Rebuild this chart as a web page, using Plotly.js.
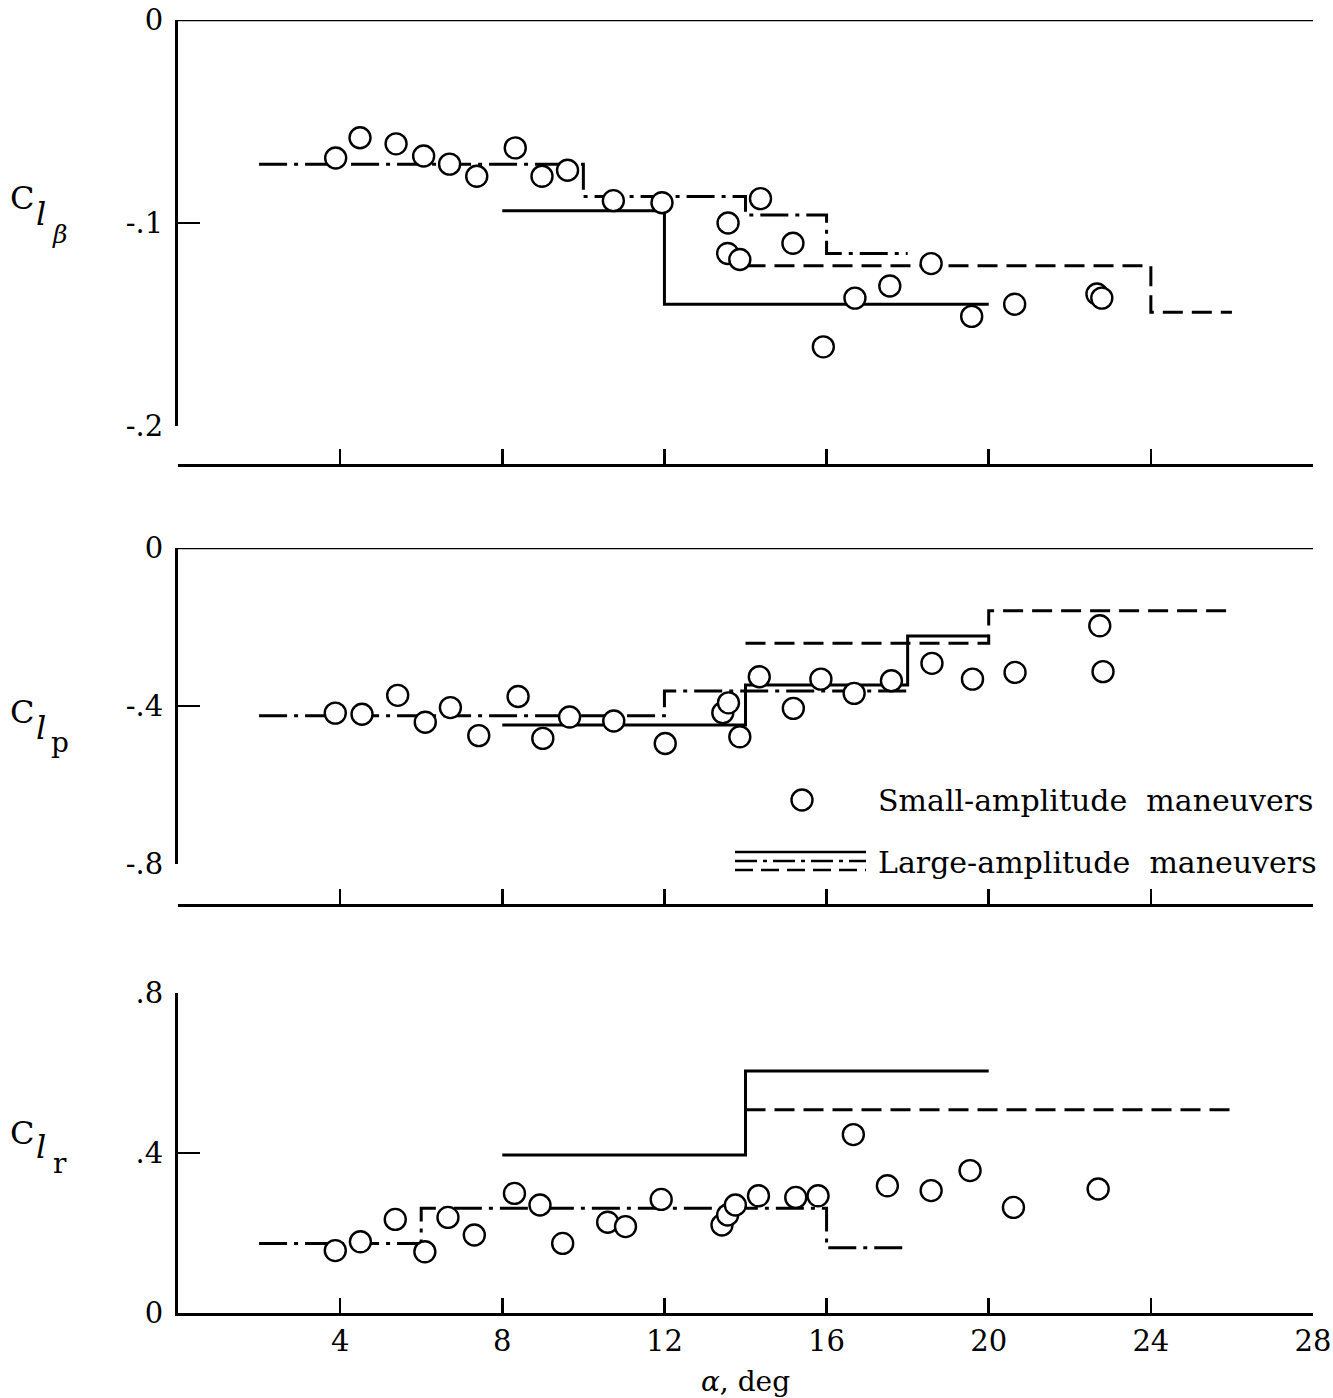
<!DOCTYPE html>
<html><head><meta charset="utf-8">
<script src="https://cdn.plot.ly/plotly-3.0.1.min.js"></script>
<style>html,body{margin:0;padding:0;background:#fff}</style>
</head><body><div id="chart" style="width:1333px;height:1398px"></div>
<script>
// ---------- data ----------
const alphaTicks = [4, 8, 12, 16, 20, 24, 28];
const alphaTickText = ['4', '8', '12', '16', '20', '24', '28'];

// C_l_beta panel
const betaSmallX = [3.89, 4.49, 5.38, 6.06, 6.70, 7.37, 8.32, 8.98, 9.61, 10.74, 11.94, 13.57, 14.37, 13.56, 13.86, 15.17, 15.92, 16.70, 17.56, 18.58, 19.58, 20.64, 22.67, 22.79];
const betaSmallY = [-0.068, -0.058, -0.061, -0.067, -0.071, -0.077, -0.063, -0.077, -0.074, -0.089, -0.090, -0.100, -0.088, -0.115, -0.118, -0.110, -0.161, -0.137, -0.131, -0.120, -0.146, -0.140, -0.135, -0.137];
const betaDashDotX = [2, 10, 14, 16, 18];
const betaDashDotY = [-0.071, -0.087, -0.096, -0.115, -0.115];
const betaSolidX = [8, 12, 20];
const betaSolidY = [-0.094, -0.140, -0.140];
const betaDashX = [14, 24, 26];
const betaDashY = [-0.121, -0.144, -0.144];
const betaTickVals = [0, -0.1, -0.2];
const betaTickText = ['0', '-.1', '-.2'];

// C_l_p panel
const pSmallX = [3.88, 4.54, 5.42, 6.10, 6.72, 7.42, 8.39, 9.00, 9.66, 10.75, 12.02, 13.44, 13.58, 13.86, 14.34, 15.18, 15.86, 16.68, 17.60, 18.60, 19.60, 20.65, 22.74, 22.82];
const pSmallY = [-0.418, -0.421, -0.373, -0.441, -0.404, -0.475, -0.376, -0.482, -0.428, -0.438, -0.495, -0.417, -0.392, -0.478, -0.326, -0.406, -0.332, -0.368, -0.336, -0.292, -0.332, -0.315, -0.197, -0.313];
const pDashDotX = [2, 12, 18];
const pDashDotY = [-0.425, -0.362, -0.362];
const pSolidX = [8, 14, 18, 20];
const pSolidY = [-0.448, -0.347, -0.223, -0.223];
const pDashX = [14, 20, 26];
const pDashY = [-0.241, -0.159, -0.159];
const pTickVals = [0, -0.4, -0.8];
const pTickText = ['0', '-.4', '-.8'];

// C_l_r panel
const rSmallX = [3.88, 4.50, 5.36, 6.09, 6.66, 7.31, 8.30, 8.93, 9.49, 10.60, 11.04, 11.92, 13.42, 13.56, 13.75, 14.32, 15.24, 15.79, 16.66, 17.50, 18.58, 19.54, 20.61, 22.70];
const rSmallY = [0.156, 0.178, 0.234, 0.153, 0.239, 0.195, 0.299, 0.270, 0.174, 0.227, 0.216, 0.284, 0.220, 0.245, 0.270, 0.293, 0.289, 0.293, 0.446, 0.318, 0.306, 0.356, 0.264, 0.310];
const rDashDotX = [2, 6, 16, 18];
const rDashDotY = [0.174, 0.262, 0.163, 0.163];
const rSolidX = [8, 14, 20];
const rSolidY = [0.395, 0.605, 0.605];
const rDashX = [14, 26];
const rDashY = [0.508, 0.508];
const rTickVals = [0, 0.4, 0.8];
const rTickText = ['0', '.4', '.8'];

const legendSmall = 'Small-amplitude&nbsp; maneuvers';
const legendLarge = 'Large-amplitude&nbsp; maneuvers';

// ---------- styling ----------
const W = 1333, H = 1398;
const px = v => v / W;
const py = v => 1 - v / H;
const FONT = 'DejaVu Serif';
const INK = '#000';
const DASH = '20px,9px';
const DASHDOT = '28px,7px,4px,7px';
const LW = 3;

function stepLine(x, y, xa, ya, dash) {
  return {x: x, y: y, xaxis: xa, yaxis: ya, type: 'scatter', mode: 'lines',
    line: {shape: 'hv', color: INK, width: LW, dash: dash}, showlegend: false, hoverinfo: 'skip'};
}
function circles(x, y, xa, ya) {
  return {x: x, y: y, xaxis: xa, yaxis: ya, type: 'scatter', mode: 'markers',
    marker: {symbol: 'circle', size: 21, color: '#fff', line: {color: INK, width: 2.4}},
    showlegend: false, name: 'Small-amplitude maneuvers'};
}

const traces = [
  stepLine(betaDashDotX, betaDashDotY, 'x', 'y', DASHDOT),
  stepLine(betaSolidX, betaSolidY, 'x', 'y', 'solid'),
  stepLine(betaDashX, betaDashY, 'x', 'y', DASH),
  circles(betaSmallX, betaSmallY, 'x', 'y'),
  stepLine(pDashDotX, pDashDotY, 'x2', 'y2', DASHDOT),
  stepLine(pSolidX, pSolidY, 'x2', 'y2', 'solid'),
  stepLine(pDashX, pDashY, 'x2', 'y2', DASH),
  circles(pSmallX, pSmallY, 'x2', 'y2'),
  stepLine(rDashDotX, rDashDotY, 'x3', 'y3', DASHDOT),
  stepLine(rSolidX, rSolidY, 'x3', 'y3', 'solid'),
  stepLine(rDashX, rDashY, 'x3', 'y3', DASH),
  circles(rSmallX, rSmallY, 'x3', 'y3')
];

const xDomain = [px(178), px(1313)];
const tickFont = {family: FONT, size: 29, color: INK};

function xAxis(extra) {
  return Object.assign({
    domain: xDomain, range: [0, 28], showgrid: false, zeroline: false,
    showline: true, linewidth: LW, linecolor: INK,
    ticks: 'inside', ticklen: 15, tickwidth: 2.5, tickcolor: INK,
    tickmode: 'array', tickvals: [0].concat(alphaTicks), showticklabels: false,
    tickfont: tickFont, fixedrange: true
  }, extra);
}
function yAxis(extra) {
  return Object.assign({
    showgrid: false, zeroline: false, showline: true, linewidth: LW, linecolor: INK,
    ticks: 'inside', ticklen: 22, tickwidth: 2.5, tickcolor: INK,
    tickmode: 'array', tickfont: tickFont, ticklabelstandoff: 6, fixedrange: true
  }, extra);
}

const layout = {
  width: W, height: H,
  margin: {l: 0, r: 0, t: 0, b: 0},
  paper_bgcolor: '#fff', plot_bgcolor: '#fff',
  font: {family: FONT, color: INK},
  showlegend: false,
  xaxis: xAxis({anchor: 'free', position: py(465)}),
  yaxis: yAxis({anchor: 'x', domain: [py(426), py(20)], range: [-0.2, 0], tickvals: betaTickVals, ticktext: betaTickText}),
  xaxis2: xAxis({anchor: 'free', position: py(905)}),
  yaxis2: yAxis({anchor: 'x2', domain: [py(864), py(548)], range: [-0.8, 0], tickvals: pTickVals, ticktext: pTickText}),
  xaxis3: xAxis({anchor: 'y3', tickvals: alphaTicks, ticktext: alphaTickText, showticklabels: true, ticklabelstandoff: 0,
    title: {text: '<i>α</i>, deg', font: {family: FONT, size: 28, color: INK}, standoff: 16}}),
  yaxis3: yAxis({anchor: 'x3', domain: [py(1313), py(993)], range: [0, 0.8], tickvals: rTickVals, ticktext: rTickText}),
  shapes: [
    {type: 'line', xref: 'x domain', x0: 0, x1: 1, yref: 'y', y0: 0, y1: 0, line: {color: INK, width: 2.5}},
    {type: 'line', xref: 'x2 domain', x0: 0, x1: 1, yref: 'y2', y0: 0, y1: 0, line: {color: INK, width: 2.5}},
    // legend samples
    {type: 'circle', xref: 'paper', yref: 'paper', xsizemode: 'pixel', ysizemode: 'pixel',
      xanchor: px(802), yanchor: py(800), x0: -10.5, x1: 10.5, y0: -10.5, y1: 10.5,
      line: {color: INK, width: 2.4}, fillcolor: '#fff'},
    {type: 'line', xref: 'paper', yref: 'paper', x0: px(735), x1: px(866), y0: py(852), y1: py(852), line: {color: INK, width: 2.5}},
    {type: 'line', xref: 'paper', yref: 'paper', x0: px(735), x1: px(866), y0: py(861), y1: py(861), line: {color: INK, width: 2.5, dash: '22px,6px,4px,6px'}},
    {type: 'line', xref: 'paper', yref: 'paper', x0: px(735), x1: px(866), y0: py(870), y1: py(870), line: {color: INK, width: 2.5, dash: '18px,8px'}}
  ],
  annotations: []
};

function ann(text, x, y, size, anchor) {
  layout.annotations.push({text: text, xref: 'paper', yref: 'paper', x: px(x), y: py(y),
    xanchor: anchor || 'center', yanchor: 'middle', showarrow: false,
    font: {family: FONT, size: size, color: INK}});
}
// y-axis labels (C_l with subscripts)
ann('C', 22, 198, 32); ann('<i>l</i>', 41, 214, 32); ann('<i>β</i>', 59, 234, 25);
ann('C', 22, 712, 32); ann('<i>l</i>', 41, 728, 32); ann('p', 60, 742, 28);
ann('C', 22, 1133, 32); ann('<i>l</i>', 41, 1147, 32); ann('r', 60, 1163, 28);
// legend texts
ann(legendSmall, 876, 800, 30, 'left');
ann(legendLarge, 876, 862, 30, 'left');

Plotly.newPlot('chart', traces, layout, {staticPlot: true, displayModeBar: false});
</script></body></html>
